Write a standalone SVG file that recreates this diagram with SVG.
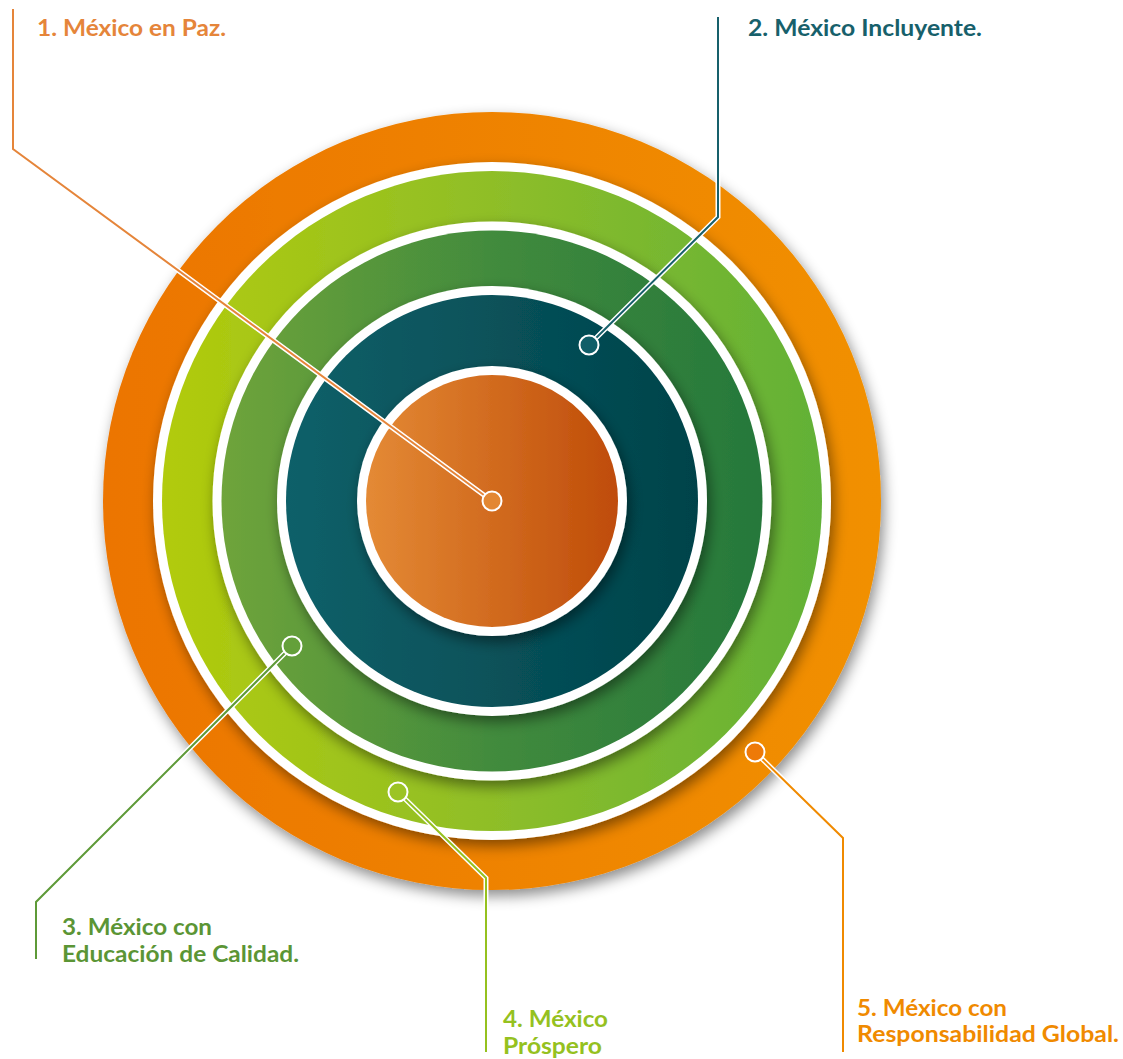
<svg xmlns="http://www.w3.org/2000/svg" width="1123" height="1059" viewBox="0 0 1123 1059">
  <defs>
    <linearGradient id="gOuter" x1="0" y1="0" x2="1" y2="0">
      <stop offset="0" stop-color="#EC7500"/>
      <stop offset="1" stop-color="#F19000"/>
    </linearGradient>
    <linearGradient id="gLight" x1="0" y1="0" x2="1" y2="0">
      <stop offset="0" stop-color="#B2CB0C"/>
      <stop offset="0.5" stop-color="#8FBE28"/>
      <stop offset="1" stop-color="#62B137"/>
    </linearGradient>
    <linearGradient id="gDark" x1="0" y1="0" x2="1" y2="0">
      <stop offset="0" stop-color="#6FA43A"/>
      <stop offset="0.5" stop-color="#428B3C"/>
      <stop offset="1" stop-color="#25783B"/>
    </linearGradient>
    <linearGradient id="gTeal" x1="0" y1="0" x2="1" y2="0">
      <stop offset="0" stop-color="#106069"/>
      <stop offset="1" stop-color="#00434A"/>
    </linearGradient>
    <linearGradient id="gInner" x1="0" y1="0" x2="1" y2="0">
      <stop offset="0" stop-color="#E48A35"/>
      <stop offset="1" stop-color="#BF4C09"/>
    </linearGradient>
    <filter id="shadow" x="-20%" y="-20%" width="140%" height="140%">
      <feDropShadow dx="3" dy="6" stdDeviation="7" flood-color="#000" flood-opacity="0.45"/>
    </filter>
  </defs>
  <style>
    .ring-gap { fill: #ffffff; }
    .lbl { font-family: Lato, "Open Sans", sans-serif; font-weight: 700; font-size: 22px; }
    .casing { fill: none; stroke: #ffffff; stroke-width: 5; stroke-linejoin: miter; }
    .wire { fill: none; stroke-width: 2; stroke-linejoin: miter; }
    .dot { stroke: #ffffff; stroke-width: 2; }
  </style>
  <rect width="1123" height="1059" fill="#ffffff"/>

  <g id="node-5-ring" filter="url(#shadow)">
    <circle cx="492" cy="501" r="389" fill="url(#gOuter)"/>
  </g>
  <g id="node-4-ring" filter="url(#shadow)">
    <circle class="ring-gap" cx="492" cy="501" r="339"/>
    <circle cx="492" cy="501" r="330" fill="url(#gLight)"/>
  </g>
  <g id="node-3-ring" filter="url(#shadow)">
    <circle class="ring-gap" cx="492" cy="501" r="279.5"/>
    <circle cx="492" cy="501" r="270.5" fill="url(#gDark)"/>
  </g>
  <g id="node-2-ring" filter="url(#shadow)">
    <circle class="ring-gap" cx="492" cy="501" r="215"/>
    <circle cx="492" cy="501" r="206" fill="url(#gTeal)"/>
  </g>
  <g id="node-1-ring" filter="url(#shadow)">
    <circle class="ring-gap" cx="492" cy="501" r="135"/>
    <circle cx="492" cy="501" r="126" fill="url(#gInner)"/>
  </g>

  <g id="connectors">
    <polyline class="casing" points="13,9 13,149 492,501"/>
    <polyline class="wire" stroke="#E5853A" points="13,9 13,149 492,501"/>
    <polyline class="casing" points="718,17 718,217 589,345"/>
    <polyline class="wire" stroke="#17606B" points="718,17 718,217 589,345"/>
    <polyline class="casing" points="36,959 36,902 292,646"/>
    <polyline class="wire" stroke="#5E9A38" points="36,959 36,902 292,646"/>
    <polyline class="casing" points="486,1052 486,878 398,792"/>
    <polyline class="wire" stroke="#95C11F" points="486,1052 486,878 398,792"/>
    <polyline class="casing" points="843,1052 843,838 755,752"/>
    <polyline class="wire" stroke="#F08A00" points="843,1052 843,838 755,752"/>
  </g>

  <g id="node-1">
    <circle class="dot" cx="492" cy="501" r="9.5" fill="#E38733"/>
    <text class="lbl" x="37" y="36" fill="#E5853A" textLength="189" lengthAdjust="spacingAndGlyphs">1. México en Paz.</text>
  </g>
  <g id="node-2">
    <circle class="dot" cx="589" cy="345" r="9.5" fill="#105E68"/>
    <text class="lbl" x="748" y="36" fill="#17606B" textLength="234" lengthAdjust="spacingAndGlyphs">2. México Incluyente.</text>
  </g>
  <g id="node-3">
    <circle class="dot" cx="292" cy="646" r="9.5" fill="#64A03A"/>
    <text class="lbl" x="62" y="935" fill="#5B9535" textLength="150" lengthAdjust="spacingAndGlyphs">3. México con</text>
    <text class="lbl" x="62" y="962" fill="#5B9535" textLength="237" lengthAdjust="spacingAndGlyphs">Educación de Calidad.</text>
  </g>
  <g id="node-4">
    <circle class="dot" cx="398" cy="792" r="9.5" fill="#9CC425"/>
    <text class="lbl" x="503" y="1027" fill="#95C11F" textLength="105" lengthAdjust="spacingAndGlyphs">4. México</text>
    <text class="lbl" x="503" y="1054" fill="#95C11F" textLength="99" lengthAdjust="spacingAndGlyphs">Próspero</text>
  </g>
  <g id="node-5">
    <circle class="dot" cx="755" cy="752" r="9.5" fill="#EE7A08"/>
    <text class="lbl" x="857" y="1016" fill="#F08A00" textLength="150" lengthAdjust="spacingAndGlyphs">5. México con</text>
    <text class="lbl" x="857" y="1042" fill="#F08A00" textLength="262" lengthAdjust="spacingAndGlyphs">Responsabilidad Global.</text>
  </g>
</svg>
